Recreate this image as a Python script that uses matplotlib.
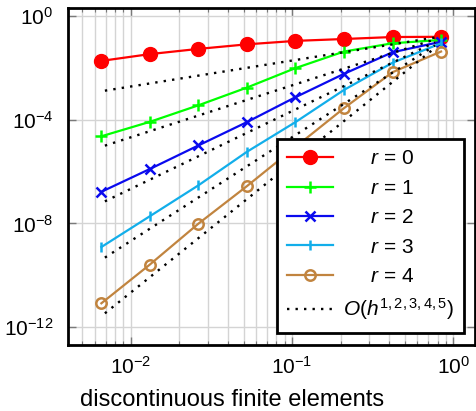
import numpy as np
import matplotlib
matplotlib.use("Agg")
import matplotlib.pyplot as plt
from matplotlib.ticker import FixedLocator, LogLocator, NullLocator, NullFormatter, LogFormatterMathtext

plt.rcParams['font.family'] = ['Liberation Sans', 'DejaVu Sans']
plt.rcParams['mathtext.fontset'] = 'custom'
plt.rcParams['mathtext.rm'] = 'Liberation Sans'
plt.rcParams['mathtext.it'] = 'Liberation Sans:italic'

# ---------- DATA ----------
h = [0.84, 0.42, 0.21, 0.105, 0.0525, 0.02625, 0.013125, 0.0065625]

err_r0 = [0.158, 0.155, 0.130, 0.110, 0.081, 0.054, 0.034, 0.0186]
err_r1 = [0.120, 0.089, 0.0427, 9.8e-3, 1.74e-3, 3.6e-4, 8.3e-5, 2.3e-5]
err_r2 = [0.102, 0.040, 5.9e-3, 7.4e-4, 8.1e-5, 1.02e-5, 1.26e-6, 1.66e-7]
err_r3 = [0.089, 0.0158, 1.41e-3, 8.1e-5, 5.8e-6, 2.95e-7, 1.9e-8, 1.23e-9]
err_r4 = [0.0427, 6.8e-3, 2.8e-4, 8.9e-6, 2.75e-7, 9.8e-9, 2.6e-10, 8.3e-12]

# reference slopes O(h^1..5): values at both ends of the dotted lines
ref_h = [0.0069, 0.77]
ref_lo = [1.32e-3, 1.0e-5, 7.1e-8, 4.8e-10, 3.4e-12]
ref_hi = [0.148, 0.126, 0.098, 0.074, 0.059]

labels = [r"$\quad\;\; r\,=\,0$", r"$\quad\;\; r\,=\,1$", r"$\quad\;\; r\,=\,2$",
          r"$\quad\;\; r\,=\,3$", r"$\quad\;\; r\,=\,4$"]
ref_label = r"$O(h^{1,2,3,4,5})$"
colors = ["#ff0000", "#00ff00", "#0a0aee", "#12aeea", "#c1843f"]

# ---------- PLOT ----------
fig = plt.figure(figsize=(4.77, 4.11), dpi=100)
ax = fig.add_axes([68 / 477, 1 - 345 / 411, 407.5 / 477, 337 / 411])

styles = [
    dict(marker="o", ms=10, mfc=colors[0], mec=colors[0]),
    dict(marker="+", ms=9, mew=1.8),
    dict(marker="x", ms=6.5, mew=1.8),
    dict(marker="|", ms=7.5, mew=1.8),
    dict(marker="o", ms=7.5, mfc="none", mew=1.8),
]
for err, lab, col, st in zip([err_r0, err_r1, err_r2, err_r3, err_r4], labels, colors, styles):
    ax.plot(h, err, color=col, lw=1.6, label=lab, zorder=3, **st)

for k in range(5):
    ax.plot(ref_h, [ref_lo[k], ref_hi[k]], color="black", lw=1.7,
            linestyle=(0, (1, 2.6)), zorder=4,
            label=ref_label if k == 0 else None)

ax.set_xscale("log")
ax.set_yscale("log")
ax.set_xlim(10 ** -2.39, 10 ** 0.138)
ax.set_ylim(10 ** -12.69, 10 ** 0.31)

ax.xaxis.set_major_locator(FixedLocator([1e-2, 1e-1, 1e0]))
ax.xaxis.set_major_formatter(LogFormatterMathtext())
ax.xaxis.set_minor_locator(LogLocator(base=10, subs=np.arange(2, 10), numticks=20))
ax.xaxis.set_minor_formatter(NullFormatter())
ax.yaxis.set_major_locator(FixedLocator([1e-12, 1e-8, 1e-4, 1e0]))
ax.yaxis.set_major_formatter(LogFormatterMathtext())
ax.yaxis.set_minor_locator(NullLocator())

ax.grid(True, which="both", axis="x", color="#d4d4d4", lw=1.0, zorder=0)
ax.grid(True, which="major", axis="y", color="#d4d4d4", lw=1.0, zorder=0)
ax.set_axisbelow(True)

ax.tick_params(which="both", direction="in", top=True, right=True, color="#7a7a7a")
ax.tick_params(which="major", length=6, width=1.0, labelsize=15)
ax.tick_params(which="minor", length=3, width=0.8)
ax.tick_params(axis="x", pad=8)
ax.tick_params(axis="y", pad=10.5)

for sp in ax.spines.values():
    sp.set_linewidth(2.0)
    sp.set_color("black")

leg = ax.legend(loc="lower right", bbox_to_anchor=(0.972, 0.036), fontsize=15,
                frameon=True, fancybox=False, framealpha=1, edgecolor="black",
                handlelength=2.2, handletextpad=0.45, labelspacing=0.5,
                borderpad=0.5, borderaxespad=0)
leg.get_frame().set_linewidth(2.0)
leg.set_zorder(10)

ax.set_xlabel("discontinuous finite elements", fontsize=17)
ax.xaxis.set_label_coords((232 - 68) / 407.5, (345 - 406) / 337)
ax.xaxis.label.set_va("baseline")

fig.savefig("out.png", dpi=100)
